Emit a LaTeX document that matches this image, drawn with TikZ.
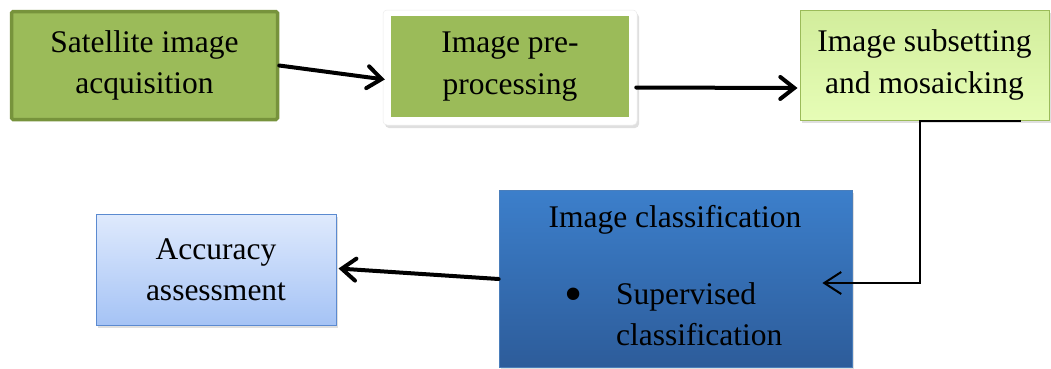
\documentclass[tikz,border=0pt]{standalone}
\usepackage{fontspec}
\setmainfont{Liberation Serif}
\usetikzlibrary{arrows.meta,calc,shadows}
\definecolor{olivegreen}{HTML}{9BBB59}
\definecolor{olivedark}{HTML}{77933C}
\definecolor{limetop}{HTML}{D2ED9C}
\definecolor{limebot}{HTML}{E6FDB6}
\definecolor{bluetop}{HTML}{3C7FCB}
\definecolor{bluebot}{HTML}{2D5C9A}
\definecolor{bluebord}{HTML}{4A7EBB}
\definecolor{lbluetop}{HTML}{DFEAFD}
\definecolor{lbluebot}{HTML}{A5C3F5}
\definecolor{lbluebord}{HTML}{5B8AD0}
\tikzset{
  txt/.style={font=\fontsize{31.5}{41.5}\selectfont, align=center, text=black},
  softshadow/.style={drop shadow={opacity=0.25, shadow xshift=2pt, shadow yshift=-3pt}},
  darkgreenbox/.style={txt, draw=olivedark, line width=3.5pt, fill=olivegreen, rounded corners=1.5pt},
  frameouter/.style={fill=white, draw=black!8, line width=0.5pt, rounded corners=4pt, softshadow},
  greenfill/.style={txt, fill=olivegreen, inner sep=0pt},
  limebox/.style={txt, draw=olivegreen, line width=1pt, top color=limetop, bottom color=limebot, softshadow},
  bluebox/.style={draw=bluebord, line width=0.8pt, top color=bluetop, bottom color=bluebot, softshadow},
  lbluebox/.style={txt, draw=lbluebord, line width=1pt, top color=lbluetop, bottom color=lbluebot, softshadow},
  thickarrow/.style={line width=4pt, line cap=round, -{Straight Barb[length=14pt,width=22pt,line cap=round]}},
  thinarrow/.style={line width=2pt, -{Straight Barb[length=17pt,width=22pt]}}
}
\begin{document}
\begin{tikzpicture}[x=1pt,y=-1pt]
\useasboundingbox (0,0) rectangle (1051,368);
% boxes
\node[darkgreenbox, minimum width=266pt, minimum height=108pt] (s1) at (144.5,65.5) {Satellite image\\acquisition};
\node[frameouter, minimum width=254pt, minimum height=115pt] (s2) at (510,67.5) {};
\node[greenfill, minimum width=238pt, minimum height=101pt] (s2in) at (510,66.5) {Image pre-\\processing};
\node[limebox, minimum width=249pt, minimum height=110pt] (s3) at (924.5,65) {Image subsetting\\and mosaicking};
\node[bluebox, minimum width=353pt, minimum height=177pt] (s4) at (675.5,278.5) {};
\node[txt] (s4t) at (675,220) {Image classification};
\node[txt, font=\fontsize{52}{52}\selectfont, inner sep=0pt] (s4b) at (574,300) {\textbullet};
\node[txt, align=left, anchor=west] (s4l) at (612.5,314) {Supervised\\classification};
\node[lbluebox, minimum width=240pt, minimum height=111pt] (s5) at (216,269.5) {Accuracy\\assessment};
% connectors
\coordinate (a1s) at (s1.east);
\coordinate (a1e) at ($(s2.west)+(2,12)$);
\draw[thickarrow] (a1s) -- (a1e);
\coordinate (a2s) at ($(s2.east)+(-1,20)$);
\coordinate (a2e) at ($(s3.west)+(-2,23)$);
\draw[thickarrow] (a2s) -- (a2e);
\coordinate (a3s) at ($(s3.south east)+(-29,0)$);
\coordinate (a3m) at ($(s3.south east)+(-130,0)$);
\coordinate (a3e) at ($(s4.east)+(-30,4.5)$);
\draw[thinarrow] (a3s) -- (a3m) |- (a3e);
\coordinate (a4s) at ($(s4.west)+(0,0.5)$);
\coordinate (a4e) at ($(s5.east)+(2,-1)$);
\draw[thickarrow] (a4s) -- (a4e);
\end{tikzpicture}
\end{document}
